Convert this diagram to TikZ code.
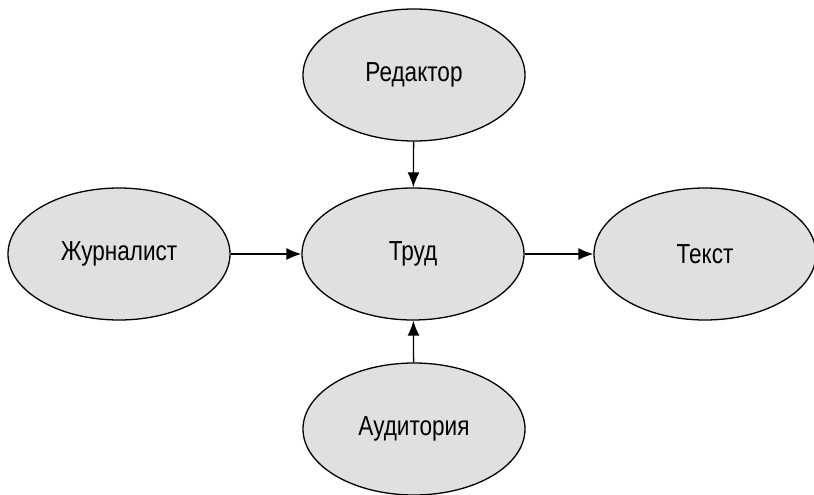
\documentclass[tikz,border=0pt]{standalone}
\usepackage{fontspec}
\setmainfont{Liberation Sans}[FakeStretch=0.82]
\usetikzlibrary{shapes.geometric,arrows.meta}
\definecolor{ellfill}{HTML}{E0E0E0}
\tikzset{
  ell/.style={ellipse, draw=black, line width=1.3pt, fill=ellfill, minimum width=222pt, minimum height=132pt, inner sep=0pt, font=\fontsize{27.5}{31}\selectfont},
  conn/.style={line width=1.3pt, -{Latex[length=15pt,width=12pt]}}
}
\begin{document}
\begin{tikzpicture}[x=1pt,y=-1pt]
\useasboundingbox (0,0) rectangle (814,495);
\node[ell] (red) at (414,75) {Редактор};
\node[ell] (trud) at (413,254) {Труд};
\node[ell] (zhur) at (119,254) {Журналист};
\node[ell] (tekst) at (705,254) {Текст};
\node[ell] (aud) at (414,429) {Аудитория};
\draw[conn] (red) -- (trud);
\draw[conn] (aud) -- (trud);
\draw[conn] (zhur) -- (trud);
\draw[conn] (trud) -- (tekst);
\end{tikzpicture}
\end{document}
